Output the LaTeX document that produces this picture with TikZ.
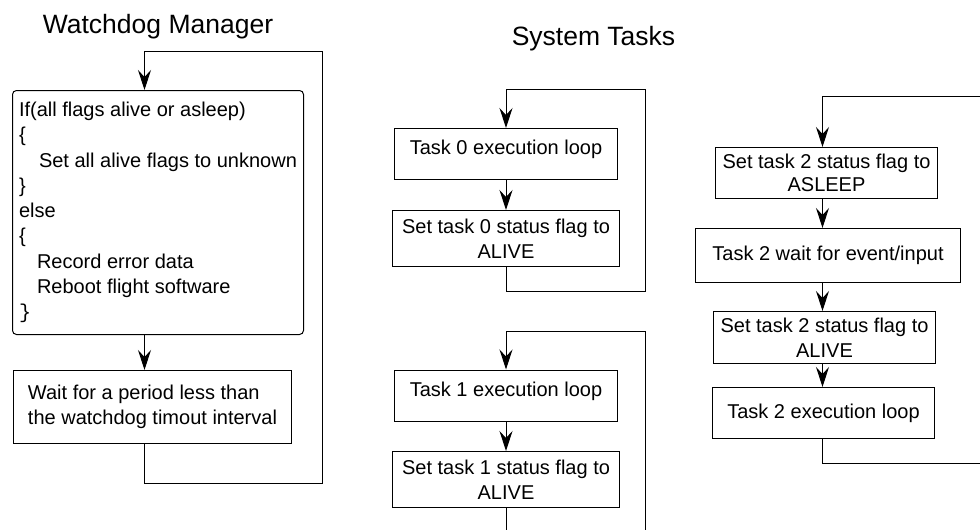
\documentclass[tikz,border=0pt]{standalone}
\usepackage{fontspec}
\setmainfont{Liberation Sans}
\setmonofont{Liberation Mono}
\usetikzlibrary{arrows.meta}

\begin{document}
\begin{tikzpicture}[x=1pt,y=-1pt,
  every node/.style={font=\fontsize{20}{25}\selectfont},
  box/.style={draw=black, line width=1pt, inner sep=0pt, align=center},
  topline/.style={text height=26pt, text depth=25pt},
  heading/.style={font=\fontsize{26.5}{30}\selectfont, anchor=base, inner sep=0pt},
  link/.style={line width=1pt, -{Stealth[length=20pt,width=13pt,inset=7pt]}}]
\useasboundingbox (0,0) rectangle (980,530);
\clip (0,0) rectangle (980,530);

% ---------- Watchdog manager ----------
\node[heading] (wdtitle) at (158,34) {Watchdog Manager};

\node[box, draw=black, rounded corners=4pt, align=left, minimum width=291pt, minimum height=244pt,
      font=\fontsize{20}{25.25}\selectfont] (check) at (158,212.5)
  {If(all flags alive or asleep)\\
   \{\\
   \hspace*{20pt}Set all alive flags to unknown\\
   \}\\
   else\\
   \{\\
   \hspace*{18pt}Record error data\\
   \hspace*{18pt}Reboot flight software\\
   {\ttfamily\}}};

\node[box, align=left, minimum width=278pt, minimum height=73pt] (wait) at (152.5,407)
  {Wait for a period less than\\the watchdog timout interval};

\coordinate (wtop) at (144.5,51.5);
\coordinate (wright) at (322.5,51.5);
\coordinate (wbot) at (144.5,483.5);

\draw[link] (check.south -| wtop) -- (wait.north -| wtop);
\draw[link] (wait.south -| wtop) -- (wbot) -| (wright) -- (wtop) -- (check.north -| wtop);

% ---------- System tasks ----------
\node[heading] (sttitle) at (593.5,45) {System Tasks};

% Task 0
\node[box, topline, minimum width=223pt] (t0) at (506,154) {Task 0 execution loop};
\node[box, minimum width=227pt, minimum height=56pt] (s0) at (506,238.5)
  {Set task 0 status flag to\\ALIVE};
\coordinate (l0a) at (645.5,89.5);
\coordinate (l0b) at (645.5,291.5);
\draw[link] (t0) -- (s0);
\draw[link] (s0.south) |- (l0b) -- (l0a) -| (t0.north);

% Task 1
\node[box, topline, minimum width=223pt] (t1) at (506,395.5) {Task 1 execution loop};
\node[box, minimum width=227pt, minimum height=56pt] (s1) at (506,479.5)
  {Set task 1 status flag to\\ALIVE};
\coordinate (l1a) at (645.5,331.5);
\coordinate (l1b) at (645.5,560);
\draw[link] (t1) -- (s1);
\draw[link] (s1.south) |- (l1b) -- (l1a) -| (t1.north);

% Task 2
\node[box, minimum width=222pt, minimum height=51pt, font=\fontsize{20}{23}\selectfont]
  (a2) at (826.5,173) {Set task 2 status flag to\\ASLEEP};
\node[box, minimum width=265pt, minimum height=54pt] (w2) at (828,255.5)
  {Task 2 wait for event/input};
\node[box, minimum width=222pt, minimum height=52pt] (v2) at (824.5,337.5)
  {Set task 2 status flag to\\ALIVE};
\node[box, minimum width=222pt, minimum height=51pt] (e2) at (823.5,413)
  {Task 2 execution loop};

\coordinate (c2) at (822.5,96.5);
\coordinate (r2a) at (995,96.5);
\coordinate (r2b) at (995,463.5);
\coordinate (c2b) at (822.5,463.5);

\draw[link] (a2.south -| c2) -- (w2.north -| c2);
\draw[link] (w2.south -| c2) -- (v2.north -| c2);
\draw[link] (v2.south -| c2) -- (e2.north -| c2);
\draw[link] (e2.south -| c2) -- (c2b) -- (r2b) -- (r2a) -- (c2) -- (a2.north -| c2);
\end{tikzpicture}
\end{document}
